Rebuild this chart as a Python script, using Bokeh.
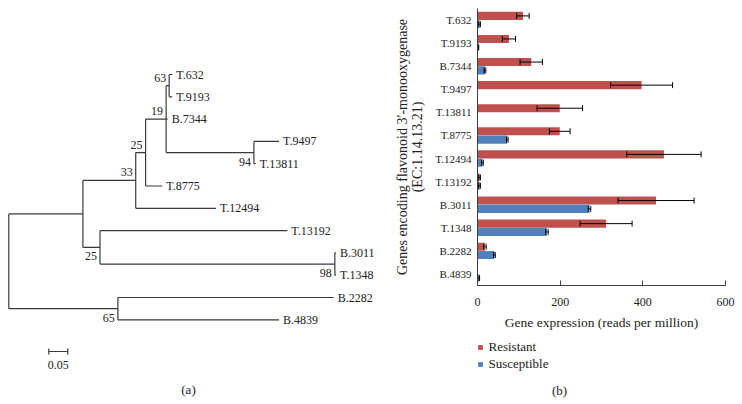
import numpy as np
from bokeh.plotting import figure
from bokeh.layouts import row, column
from bokeh.models import (ColumnDataSource, Range1d, FactorRange, FixedTicker,
                          Legend, LegendItem, Label)
from bokeh.transform import dodge
from bokeh.core.properties import value
from bokeh.embed import file_html
from bokeh.resources import INLINE

# ---------------- Tree data (panel a) ----------------
node_names = ["root", "A", "n33", "n25a", "n19", "n63", "T.632", "T.9193", "B.7344",
              "n94", "T.9497", "T.13811", "T.8775", "T.12494", "n25b", "T.13192",
              "n98", "B.3011", "T.1348", "n65", "B.2282", "B.4839"]
node_parents = [None, "root", "A", "n33", "n25a", "n19", "n63", "n63", "n19",
                "n19", "n94", "n94", "n25a", "n33", "A", "n25b",
                "n25b", "n98", "n98", "root", "n65", "n65"]
branch_lengths = [0.0, 0.195, 0.139, 0.026, 0.054, 0.008, 0.008, 0.008, 0.004,
                  0.231, 0.066, 0.005, 0.044, 0.211, 0.045, 0.493,
                  0.618, 0.003, 0.003, 0.287, 0.568, 0.424]
bootstrap_nodes = ["n63", "n19", "n25a", "n33", "n94", "n25b", "n98", "n65"]
bootstrap_values = [63, 19, 25, 33, 94, 25, 98, 65]
scale_bar_length = 0.05

# ---------------- Expression data (panel b) ----------------
genes = ["T.632", "T.9193", "B.7344", "T.9497", "T.13811", "T.8775", "T.12494",
         "T.13192", "B.3011", "T.1348", "B.2282", "B.4839"]
resistant = [110, 76, 130, 397, 199, 199, 451, 5, 432, 311, 18, 0]
resistant_err = [15, 16, 27, 75, 55, 25, 90, 2, 92, 63, 3, 0]
susceptible = [5, 2, 18, 0, 0, 72, 12, 5, 271, 168, 41, 3]
susceptible_err = [2, 1, 2, 0, 0, 2, 2, 2, 3, 3, 2, 2]
x_ticks = [0, 200, 400, 600]
series_names = ["Resistant", "Susceptible"]
RED, BLUE = "#C0504D", "#4F81BD"

FONT = value("Liberation Serif")
TXT = "#222222"
LINE = "#3a3a3a"

# ---------------- Tree layout ----------------
children = {n: [] for n in node_names}
for n, par in zip(node_names, node_parents):
    if par is not None:
        children[par].append(n)
blen = dict(zip(node_names, branch_lengths))
parent_of = dict(zip(node_names, node_parents))
root = node_names[node_parents.index(None)]
xs, ys = {}, {}


def place_x(n, x0):
    xs[n] = x0
    for c in children[n]:
        place_x(c, x0 + blen[c])


place_x(root, 0.0)
counter = [0]


def place_y(n):
    if not children[n]:
        ys[n] = counter[0]
        counter[0] += 1
    else:
        for c in children[n]:
            place_y(c)
        ys[n] = (ys[children[n][0]] + ys[children[n][-1]]) / 2.0


place_y(root)

seg = dict(x0=[], y0=[], x1=[], y1=[])
for n in node_names:
    par = parent_of[n]
    if par is not None:
        seg["x0"].append(xs[par]); seg["y0"].append(ys[n])
        seg["x1"].append(xs[n]); seg["y1"].append(ys[n])
    if children[n]:
        seg["x0"].append(xs[n]); seg["y0"].append(ys[children[n][0]])
        seg["x1"].append(xs[n]); seg["y1"].append(ys[children[n][-1]])

leaves = [n for n in node_names if not children[n]]

# ---------------- page geometry ----------------
PAGE_W, PAGE_H = 742, 404
TW = 387                      # tree figure width
BAR_H = 335                   # bar figure height
LEG_H = PAGE_H - BAR_H        # legend strip height

PX_PER_UNIT = 380.0
ROOT_PX = 8.3
LEAF0_PX, LEAF_STEP = 74.0, 22.3
x_start = -ROOT_PX / PX_PER_UNIT
y_top = -LEAF0_PX / LEAF_STEP


def px_x(px):
    return x_start + px / PX_PER_UNIT


def px_y(py):
    return y_top + py / LEAF_STEP


tree = figure(width=TW, height=PAGE_H, output_backend="svg", toolbar_location=None,
              x_range=Range1d(x_start, x_start + TW / PX_PER_UNIT),
              y_range=Range1d(y_top + PAGE_H / LEAF_STEP, y_top),
              x_axis_type=None, y_axis_type=None, min_border=0, frame_align=False)
tree.outline_line_color = None
tree.segment(x0="x0", y0="y0", x1="x1", y1="y1", source=ColumnDataSource(seg),
             line_color=LINE, line_width=1.2)

tree.text(x=[xs[n] for n in leaves], y=[ys[n] for n in leaves], text=leaves,
          x_offset=4, text_align="left", text_baseline="middle",
          text_font=FONT, text_font_size="12px", text_color=TXT)

above = {"n63", "n19", "n25a", "n33"}
for is_above, yoff in ((True, -8), (False, 9)):
    sel = [(n, v) for n, v in zip(bootstrap_nodes, bootstrap_values) if (n in above) == is_above]
    tree.text(x=[xs[n] for n, v in sel], y=[ys[n] for n, v in sel],
              text=[str(v) for n, v in sel], x_offset=-3, y_offset=yoff,
              text_align="right", text_baseline="middle",
              text_font=FONT, text_font_size="12px", text_color=TXT)

# scale bar
sb_x0 = px_x(48.3)
sb_y = px_y(351)
tick_h = 3 / LEAF_STEP
tree.segment(x0=[sb_x0, sb_x0, sb_x0 + scale_bar_length],
             y0=[sb_y, sb_y - tick_h, sb_y - tick_h],
             x1=[sb_x0 + scale_bar_length, sb_x0, sb_x0 + scale_bar_length],
             y1=[sb_y, sb_y + tick_h, sb_y + tick_h],
             line_color=LINE, line_width=1.2)
tree.add_layout(Label(x=sb_x0 + scale_bar_length / 2, y=px_y(364), text=f"{scale_bar_length:.2f}",
                      text_align="center", text_baseline="middle", text_font="Liberation Serif",
                      text_font_size="12px", text_color=TXT))
tree.add_layout(Label(x=px_x(188), y=px_y(389), text="(a)", text_align="center",
                      text_baseline="middle", text_font="Liberation Serif",
                      text_font_size="13px", text_color=TXT))

# ---------------- Bar chart ----------------
src = ColumnDataSource(dict(
    gene=genes, res=resistant, sus=susceptible,
    res_lo=[v - e for v, e in zip(resistant, resistant_err)],
    res_hi=[v + e for v, e in zip(resistant, resistant_err)],
    sus_lo=[v - e for v, e in zip(susceptible, susceptible_err)],
    sus_hi=[v + e for v, e in zip(susceptible, susceptible_err)],
))

FRAME_L, FRAME_R, FRAME_T, FRAME_B = 477, 725, 8, 285
bars = figure(width=PAGE_W - TW, height=BAR_H, output_backend="svg", toolbar_location=None,
              y_range=FactorRange(factors=genes[::-1]), x_range=Range1d(0, 600),
              min_border_left=FRAME_L - TW, min_border_right=PAGE_W - FRAME_R,
              min_border_top=FRAME_T, min_border_bottom=BAR_H - FRAME_B,
              frame_align=False)
bars.outline_line_color = None
bars.xgrid.visible = False
bars.ygrid.visible = False

OFF, BH = 0.18, 0.35
y_res = dodge("gene", OFF, range=bars.y_range)
y_sus = dodge("gene", -OFF, range=bars.y_range)
r_res = bars.hbar(y=y_res, left=0, right="res", height=BH, source=src,
                  fill_color=RED, line_color=None)
r_sus = bars.hbar(y=y_sus, left=0, right="sus", height=BH, source=src,
                  fill_color=BLUE, line_color=None)

for ycol, lo, hi in ((y_res, "res_lo", "res_hi"), (y_sus, "sus_lo", "sus_hi")):
    bars.segment(x0=lo, y0=ycol, x1=hi, y1=ycol, source=src, line_color="black", line_width=1)
    for c in (lo, hi):
        bars.scatter(x=c, y=ycol, source=src, marker="dash", angle=np.pi / 2, size=6,
                     line_color="black", line_width=1)

xa = bars.xaxis[0]
xa.ticker = FixedTicker(ticks=x_ticks)
xa.major_tick_in = 5
xa.major_tick_out = 0
xa.minor_tick_in = 0
xa.minor_tick_out = 0
xa.axis_line_color = "#404040"
xa.major_tick_line_color = "#404040"
xa.major_label_standoff = 12
xa.major_label_text_font = "Liberation Serif"
xa.major_label_text_font_size = "12px"
xa.major_label_text_color = TXT
xa.axis_label = "Gene expression (reads per million)"
xa.axis_label_standoff = 6
xa.axis_label_text_font = "Liberation Serif"
xa.axis_label_text_font_size = "13.5px"
xa.axis_label_text_font_style = "normal"
xa.axis_label_text_color = TXT

ya = bars.yaxis[0]
ya.major_tick_in = 0
ya.major_tick_out = 0
ya.axis_line_color = "#404040"
ya.major_label_standoff = 6
ya.major_label_text_font = "Liberation Serif"
ya.major_label_text_font_size = "11px"
ya.major_label_text_color = TXT
ya.axis_label = "Genes encoding flavonoid 3\u2032-monooxygenase\n(EC:1.14.13.21)"
ya.axis_label_standoff = 7
ya.axis_label_text_font = "Liberation Serif"
ya.axis_label_text_font_size = "14px"
ya.axis_label_text_line_height = 1.0
ya.axis_label_text_font_style = "normal"
ya.axis_label_text_color = TXT

# ---------------- Legend strip with panel label ----------------
leg = figure(width=PAGE_W - TW, height=LEG_H, output_backend="svg", toolbar_location=None,
             x_range=Range1d(0, PAGE_W - TW), y_range=Range1d(LEG_H, 0),
             x_axis_type=None, y_axis_type=None, min_border=0, frame_align=False)
leg.outline_line_color = None
# legend proxies (zero-width bars outside the visible strip)
lr_res = leg.hbar(y=[-50], left=[0], right=[0], height=1, fill_color=RED, line_color=None)
lr_sus = leg.hbar(y=[-50], left=[0], right=[0], height=1, fill_color=BLUE, line_color=None)
legend = Legend(items=[LegendItem(label=series_names[0], renderers=[lr_res]),
                       LegendItem(label=series_names[1], renderers=[lr_sus])],
                location=(FRAME_L - TW - 0.5, LEG_H - (371.5 - BAR_H)), orientation="vertical",
                glyph_width=6, glyph_height=6, label_height=15, spacing=1,
                label_standoff=6, padding=0, margin=0,
                label_text_font="Liberation Serif", label_text_font_size="13px",
                label_text_color=TXT, background_fill_alpha=0, border_line_alpha=0)
leg.add_layout(legend)
leg.add_layout(Label(x=559 - TW, y=390 - BAR_H, text="(b)", text_align="center",
                     text_baseline="middle", text_font="Liberation Serif",
                     text_font_size="13px", text_color=TXT))

layout = row(tree, column(bars, leg, spacing=0), spacing=0)
open("out.html", "w").write(file_html(layout, INLINE))
